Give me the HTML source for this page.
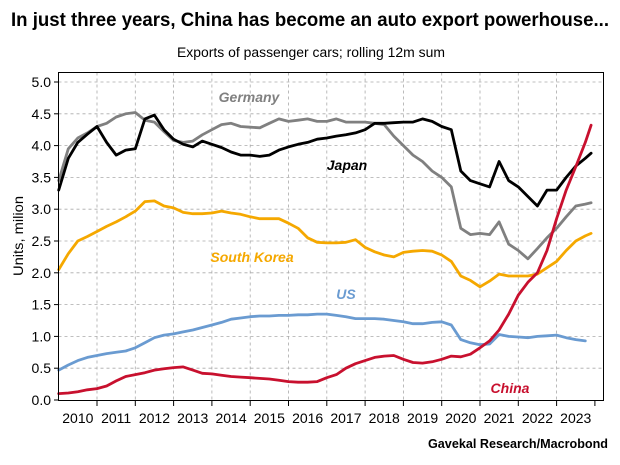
<!DOCTYPE html>
<html><head><meta charset="utf-8"><style>
html,body{margin:0;padding:0;background:#fff;}
svg{display:block;font-family:"Liberation Sans",sans-serif;}
</style></head><body>
<svg id="chart" width="620" height="465" viewBox="0 0 620 465" xmlns="http://www.w3.org/2000/svg">
<text x="310" y="26" text-anchor="middle" font-size="19" font-weight="bold" textLength="598" lengthAdjust="spacingAndGlyphs">In just three years, China has become an auto export powerhouse...</text>
<text x="311" y="57" text-anchor="middle" font-size="13.5" textLength="268" lengthAdjust="spacingAndGlyphs">Exports of passenger cars; rolling 12m sum</text>
<text transform="translate(23,236) rotate(-90)" text-anchor="middle" font-size="14" textLength="80" lengthAdjust="spacingAndGlyphs">Units, milion</text>
<text x="608" y="448" text-anchor="end" font-size="13" font-weight="bold" textLength="180" lengthAdjust="spacingAndGlyphs">Gavekal Research/Macrobond</text>
<g id="grid"></g>
<g id="series"></g>
<rect x="58.5" y="72.5" width="545" height="328" fill="none" stroke="#000" stroke-width="1"/>
<g id="labels" font-style="italic" font-weight="bold" font-size="14">
<text x="249" y="102" text-anchor="middle" fill="#808080">Germany</text>
<text x="347" y="170" text-anchor="middle" fill="#000">Japan</text>
<text x="252" y="262" text-anchor="middle" fill="#f5a800">South Korea</text>
<text x="346" y="299" text-anchor="middle" fill="#6a9bd1">US</text>
<text x="510" y="393" text-anchor="middle" fill="#c8102e">China</text>
</g>
</svg>
<script>
const dates = [];
for (let i = 0; i < 56; i++) dates.push(2010 + i * 0.25);
dates.push(2023.9);
const japan = [3.3,3.8,4.05,4.18,4.3,4.05,3.85,3.93,3.95,4.42,4.48,4.25,4.1,4.02,3.98,4.07,4.02,3.97,3.9,3.85,3.85,3.83,3.85,3.93,3.98,4.02,4.05,4.1,4.12,4.15,4.17,4.2,4.25,4.35,4.35,4.36,4.37,4.37,4.42,4.38,4.3,4.25,3.6,3.45,3.4,3.35,3.75,3.45,3.35,3.2,3.05,3.3,3.3,3.5,3.68,3.8,3.88];
const germany = [3.45,3.95,4.12,4.2,4.3,4.35,4.45,4.5,4.52,4.4,4.37,4.22,4.08,4.05,4.07,4.17,4.25,4.33,4.35,4.3,4.29,4.28,4.35,4.42,4.38,4.4,4.42,4.38,4.38,4.42,4.37,4.37,4.37,4.35,4.33,4.15,4.0,3.85,3.75,3.6,3.5,3.35,2.7,2.6,2.62,2.6,2.8,2.45,2.35,2.22,2.38,2.55,2.7,2.88,3.05,3.08,3.1];
const southKorea = [2.05,2.3,2.5,2.57,2.65,2.73,2.8,2.88,2.97,3.12,3.13,3.05,3.02,2.95,2.93,2.93,2.94,2.97,2.94,2.92,2.88,2.85,2.85,2.85,2.78,2.7,2.55,2.48,2.47,2.47,2.48,2.52,2.4,2.33,2.28,2.25,2.32,2.34,2.35,2.34,2.28,2.18,1.95,1.88,1.78,1.87,1.98,1.95,1.95,1.95,1.98,2.08,2.18,2.35,2.5,2.58,2.62];
const us = [0.47,0.55,0.62,0.67,0.7,0.73,0.75,0.77,0.82,0.9,0.98,1.02,1.04,1.07,1.1,1.14,1.18,1.22,1.27,1.29,1.31,1.32,1.32,1.33,1.33,1.34,1.34,1.35,1.35,1.33,1.31,1.28,1.28,1.28,1.27,1.25,1.23,1.2,1.2,1.22,1.23,1.18,0.95,0.9,0.87,0.88,1.03,1.0,0.99,0.98,1.0,1.01,1.02,0.98,0.95,0.93,null];
const china = [0.1,0.11,0.13,0.16,0.18,0.22,0.3,0.37,0.4,0.43,0.47,0.49,0.51,0.52,0.47,0.42,0.41,0.39,0.37,0.36,0.35,0.34,0.33,0.31,0.29,0.28,0.28,0.29,0.35,0.4,0.5,0.57,0.62,0.67,0.69,0.7,0.64,0.59,0.58,0.6,0.64,0.69,0.68,0.72,0.82,0.93,1.1,1.35,1.65,1.85,2.0,2.35,2.85,3.3,3.67,4.05,4.32];
const yTicks = [0,0.5,1,1.5,2,2.5,3,3.5,4,4.5,5];
const yTickLabels = ["0.0","0.5","1.0","1.5","2.0","2.5","3.0","3.5","4.0","4.5","5.0"];
const xYears = [2010,2011,2012,2013,2014,2015,2016,2017,2018,2019,2020,2021,2022,2023];

const NS = "http://www.w3.org/2000/svg";
const X0 = 58.7, XW = 38.3, Y0 = 400, YH = 63.6;
function xs(t){ return X0 + (t - 2010) * XW; }
function ys(v){ return Y0 - v * YH; }
const grid = document.getElementById('grid');
yTicks.forEach((v,i)=>{
  const y = ys(v);
  if (v > 0) {
    const l = document.createElementNS(NS,'line');
    
    
    l.setAttribute('x1',58.5); l.setAttribute('x2',603.5); l.setAttribute('y1',y); l.setAttribute('y2',y);
    l.setAttribute('stroke','#aaa'); l.setAttribute('stroke-dasharray','3,3'); l.setAttribute('stroke-width','0.8');
    grid.appendChild(l);
  }
  const tk = document.createElementNS(NS,'line');
  
  
  tk.setAttribute('x1',54); tk.setAttribute('x2',58.5); tk.setAttribute('y1',y); tk.setAttribute('y2',y);
  tk.setAttribute('stroke','#000');
  grid.appendChild(tk);
  const t = document.createElementNS(NS,'text');
  
  
  t.setAttribute('x',51); t.setAttribute('y',y+5); t.setAttribute('text-anchor','end'); t.setAttribute('font-size','14');
  t.textContent = yTickLabels[i];
  grid.appendChild(t);
});
xYears.forEach(yr=>{
  const x = xs(yr+1);
  if (yr < 2023) {
    const l = document.createElementNS(NS,'line');
    
    
    l.setAttribute('x1',x); l.setAttribute('x2',x); l.setAttribute('y1',72.5); l.setAttribute('y2',400.5);
    l.setAttribute('stroke','#aaa'); l.setAttribute('stroke-dasharray','3,3'); l.setAttribute('stroke-width','0.8');
    grid.appendChild(l);
  }
  const tk = document.createElementNS(NS,'line');
  
  
  tk.setAttribute('x1',x); tk.setAttribute('x2',x); tk.setAttribute('y1',400.5); tk.setAttribute('y2',406);
  tk.setAttribute('stroke','#000');
  grid.appendChild(tk);
  const t = document.createElementNS(NS,'text');
  
  
  t.setAttribute('x',xs(yr+0.5)); t.setAttribute('y',423); t.setAttribute('text-anchor','middle'); t.setAttribute('font-size','14');
  t.textContent = String(yr);
  grid.appendChild(t);
});
const seriesG = document.getElementById('series');
function drawLine(vals, color, name){
  let d = '';
  vals.forEach((v,i)=>{
    if (v === null) return;
    d += (d ? 'L' : 'M') + xs(dates[i]).toFixed(1) + ',' + ys(v).toFixed(1);
  });
  const p = document.createElementNS(NS,'path');
  
  
  p.setAttribute('d', d); p.setAttribute('fill','none'); p.setAttribute('stroke', color);
  p.setAttribute('stroke-width','2.8'); p.setAttribute('stroke-linejoin','round'); p.setAttribute('stroke-linecap','round');
  seriesG.appendChild(p);
}
drawLine(us,'#6a9bd1','us-line');
drawLine(southKorea,'#f5a800','south-korea-line');
drawLine(germany,'#808080','germany-line');
drawLine(japan,'#000000','japan-line');
drawLine(china,'#c8102e','china-line');
</script>
</body></html>
